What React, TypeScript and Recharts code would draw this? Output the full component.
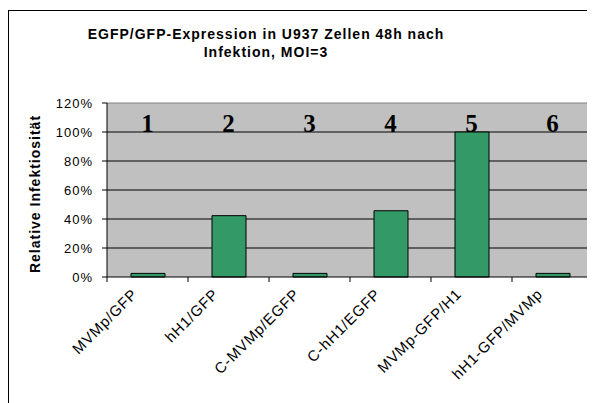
import { Bar, BarChart, CartesianGrid, ReferenceDot, XAxis, YAxis } from 'recharts'

const categories = [
  'MVMp/GFP',
  'hH1/GFP',
  'C-MVMp/EGFP',
  'C-hH1/EGFP',
  'MVMp-GFP/H1',
  'hH1-GFP/MVMp',
]
const infectivity = [0.025, 0.423, 0.025, 0.457, 1.0, 0.025]
const markers = ['1', '2', '3', '4', '5', '6']
const yTicks = [0, 0.2, 0.4, 0.6, 0.8, 1.0, 1.2]
const gridValues = [0.2, 0.4, 0.6, 0.8, 1.0]

const data = categories.map((name, i) => ({ name, value: infectivity[i] }))

const W = 600
const H = 400
const margin = { top: 91, right: 15, bottom: 34, left: 38 }
const yAxisW = 60
const band = (W - margin.left - margin.right - yAxisW - 1) / categories.length

const sans = "'Liberation Sans', Arial, sans-serif"

function CategoryTick(props: any) {
  const { x, y, payload, index } = props
  const half = band / 2
  return (
    <g>
      <line x1={x - half} y1={y} x2={x - half} y2={y + 5} stroke="#000" />
      {index === categories.length - 1 && (
        <line x1={x + half} y1={y} x2={x + half} y2={y + 5} stroke="#000" />
      )}
      <text
        transform={`translate(${x - 9},${y + 18}) rotate(-45)`}
        textAnchor="end"
        fontSize={15}
        fontFamily={sans}
        letterSpacing={0.8}
        fill="#000"
      >
        {payload.value}
      </text>
    </g>
  )
}

export default function App() {
  return (
    <div style={{ position: 'relative', width: 587, height: 395, overflow: 'hidden' }}>
      <style>{'html,body{overflow:hidden}'}</style>
      <div
        style={{
          position: 'absolute',
          left: 0,
          top: 2,
          width: 700,
          height: 500,
          borderTop: '1px solid #000',
          borderLeft: '1px solid #000',
          boxSizing: 'border-box',
          background: '#fff',
        }}
      >
        <BarChart width={W} height={H} data={data} margin={margin}>
          <text
            x={257}
            y={28}
            textAnchor="middle"
            fontSize={14}
            fontWeight="bold"
            fontFamily={sans}
            letterSpacing={1}
          >
            EGFP/GFP-Expression in U937 Zellen 48h nach
          </text>
          <text
            x={257}
            y={46}
            textAnchor="middle"
            fontSize={14}
            fontWeight="bold"
            fontFamily={sans}
            letterSpacing={1}
          >
            Infektion, MOI=3
          </text>
          <text
            transform="translate(31,183) rotate(-90)"
            textAnchor="middle"
            fontSize={14}
            fontWeight="bold"
            fontFamily={sans}
            letterSpacing={1}
          >
            Relative Infektiosität
          </text>
          <CartesianGrid
            fill="#C0C0C0"
            vertical={false}
            stroke="#000"
            horizontalValues={gridValues}
          />
          <XAxis
            dataKey="name"
            height={100}
            axisLine={{ stroke: '#000' }}
            tickLine={false}
            tickSize={0}
            tickMargin={0}
            interval={0}
            tick={<CategoryTick />}
          />
          <XAxis
            xAxisId="frame"
            orientation="top"
            height={1}
            tick={false}
            tickLine={false}
            axisLine={{ stroke: '#808080' }}
          />
          <YAxis
            width={yAxisW}
            domain={[0, 1.2]}
            ticks={yTicks}
            interval={0}
            tickFormatter={(v: number) => `${Math.round(v * 100)}%`}
            tick={{ fill: '#000', fontSize: 13, fontFamily: sans, letterSpacing: 1 }}
            tickSize={5}
            tickMargin={9}
            axisLine={{ stroke: '#000' }}
            tickLine={{ stroke: '#000' }}
          />
          <YAxis
            yAxisId="frame"
            orientation="right"
            width={1}
            tick={false}
            tickLine={false}
            axisLine={{ stroke: '#808080' }}
          />
          <Bar
            dataKey="value"
            fill="#339966"
            stroke="#000"
            strokeWidth={1}
            barSize={34}
            isAnimationActive={false}
          />
          {categories.map((c, i) => (
            <ReferenceDot
              key={c}
              x={c}
              y={1.0}
              r={1}
              fill="none"
              stroke="none"
              label={(p: any) => {
                const vb = p.viewBox || {}
                return (
                  <text
                    x={(vb.x ?? 0) + (vb.width ?? 0) / 2}
                    y={(vb.y ?? 0) + (vb.height ?? 0) / 2}
                    textAnchor="middle"
                    fontSize={25}
                    fontWeight="bold"
                    fontFamily="'Liberation Serif', 'Times New Roman', serif"
                    fill="#000"
                  >
                    {markers[i]}
                  </text>
                )
              }}
            />
          ))}
        </BarChart>
      </div>
    </div>
  )
}
